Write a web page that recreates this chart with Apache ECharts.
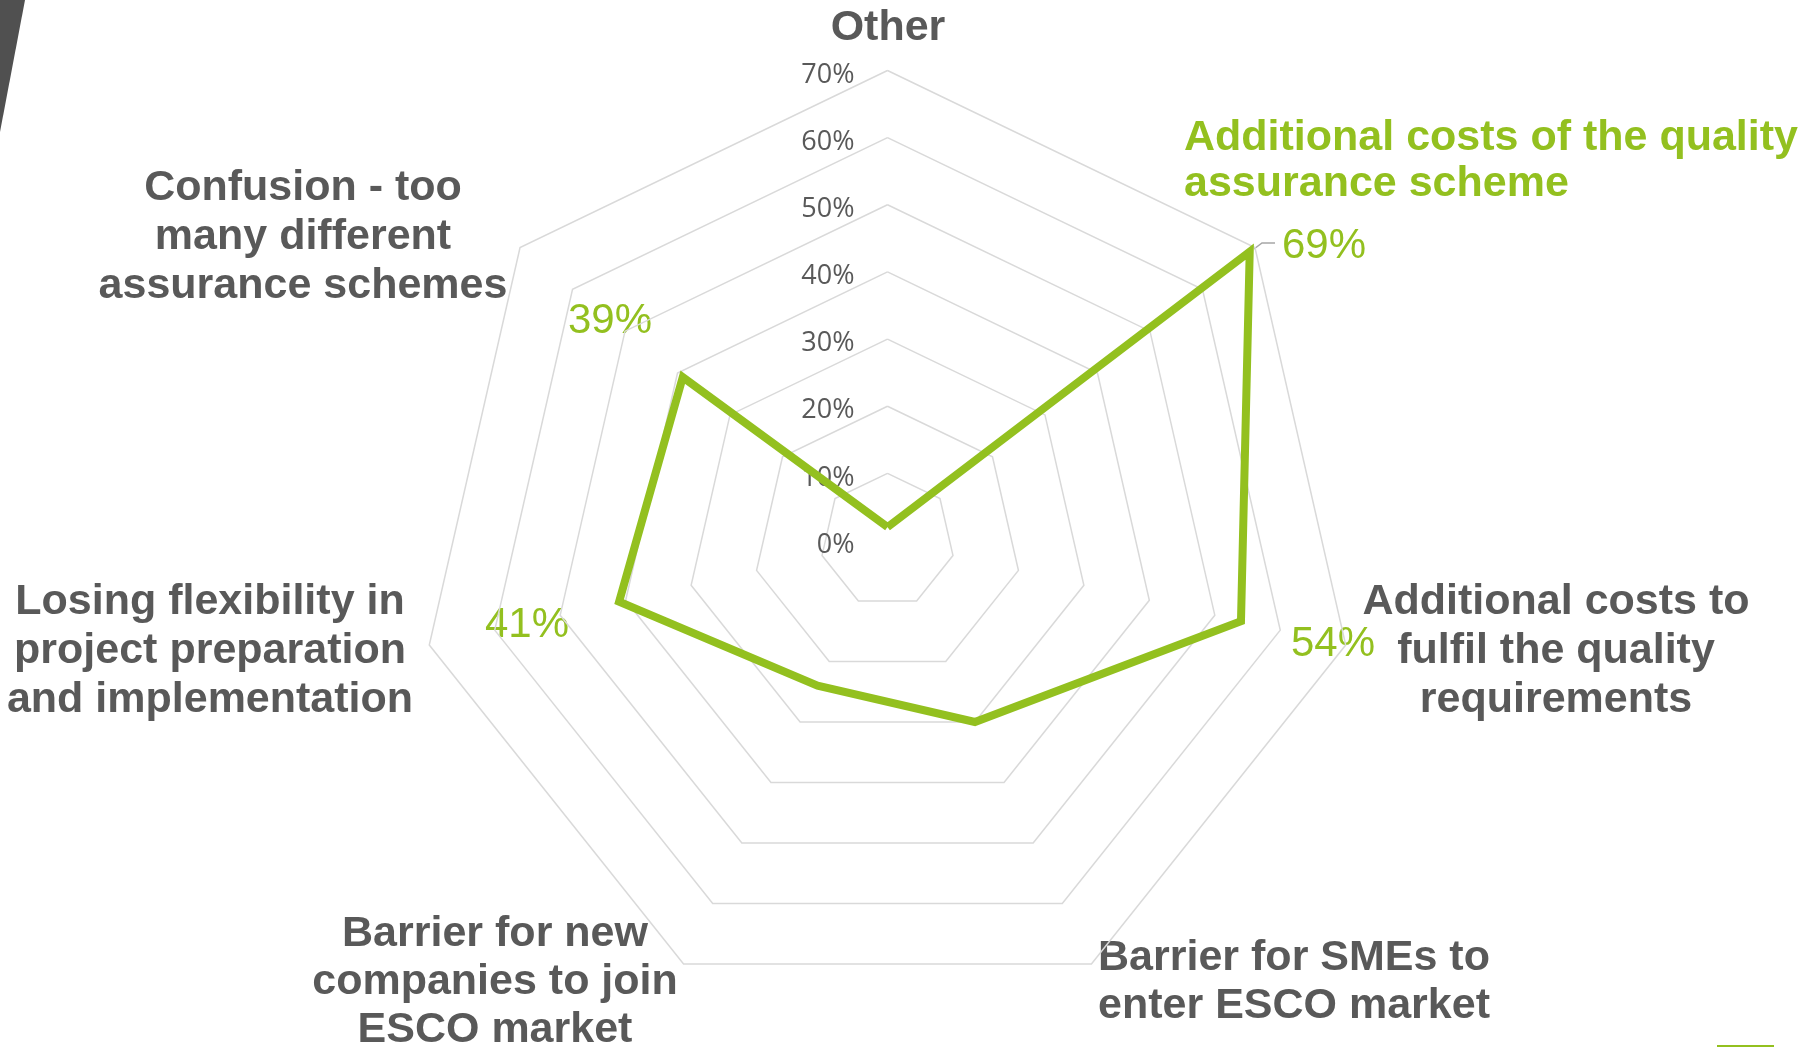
<!DOCTYPE html>
<html>
<head>
<meta charset="utf-8">
<script src="https://cdn.jsdelivr.net/npm/echarts@6/dist/echarts.min.js"></script>
<style>
  html, body { margin: 0; padding: 0; background: #ffffff; }
  #chart { width: 1801px; height: 1047px; }
</style>
</head>
<body>
<div id="chart"></div>
<script>
// Categories in clockwise order, starting at the top of the radar
const categories = [
  'Other',
  'Additional costs of the quality\nassurance scheme',
  'Additional costs to\nfulfil the quality\nrequirements',
  'Barrier for SMEs to\nenter ESCO market',
  'Barrier for new\ncompanies to join\nESCO market',
  'Losing flexibility in\nproject preparation\nand implementation',
  'Confusion - too\nmany different\nassurance schemes'
];
// Share of respondents per barrier
const values = [0.02, 0.69, 0.54, 0.30, 0.24, 0.41, 0.39];
// Which points carry a value label
const labelled = [false, true, true, false, false, true, true];
// Radial scale: 0% .. 70% in 10% steps
const axisMin = 0;
const axisMax = 0.7;
const tickStep = 0.1;

const GREEN = '#93C01F';
const GREY = '#595959';
const SANS = '"Liberation Sans", Arial, sans-serif';

const CENTER = [887.5, 540.5];
const RADIUS = 470;

// ECharts lays radar indicators out counter-clockwise, so feed them reversed
const order = [0].concat(categories.map((_, i) => i).slice(1).reverse());

const fmtPct = v => Math.round(v * 100) + '%';

// Placement of the category captions and value labels
const captionLayout = [
  { x: 888, y: 28, align: 'center', lh: 49 },
  { x: 1184, y: 161, align: 'left', lh: 46, color: GREEN },
  { x: 1556, y: 651, align: 'center', lh: 49 },
  { x: 1294, y: 982, align: 'center', lh: 48 },
  { x: 495, y: 982, align: 'center', lh: 48 },
  { x: 210, y: 651, align: 'center', lh: 49 },
  { x: 303, y: 237, align: 'center', lh: 49 }
];
const valueLabelLayout = [
  null,
  { x: 1282, y: 246, align: 'left', leader: [[1254, 249], [1262, 243], [1275, 243]] },
  { x: 1333, y: 644, align: 'center' },
  null,
  null,
  { x: 527, y: 625, align: 'center' },
  { x: 610, y: 321, align: 'center' }
];

const graphics = [
  // dark corner wedge
  { type: 'polygon', shape: { points: [[0, 0], [25, 0], [0, 132]] }, style: { fill: '#505050' }, silent: true },
  { type: 'rect', shape: { x: 1717, y: 1045, width: 57, height: 2 }, style: { fill: GREEN }, silent: true }
];

categories.forEach((name, i) => {
  const c = captionLayout[i];
  graphics.push({
    type: 'text', x: c.x, y: c.y, silent: true,
    style: {
      text: name, fill: c.color || GREY,
      font: 'bold 43px ' + SANS,
      align: c.align, verticalAlign: 'middle', lineHeight: c.lh
    }
  });
});

values.forEach((v, i) => {
  if (!labelled[i]) return;
  const l = valueLabelLayout[i];
  if (l.leader) {
    graphics.push({
      type: 'polyline', shape: { points: l.leader }, silent: true,
      style: { stroke: '#A6A6A6', lineWidth: 1.5, fill: null }
    });
  }
  graphics.push({
    type: 'text', x: l.x, y: l.y, silent: true,
    style: {
      text: fmtPct(v), fill: GREEN,
      font: '42px ' + SANS,
      align: l.align, verticalAlign: 'middle'
    }
  });
});

const chart = echarts.init(document.getElementById('chart'), null, { renderer: 'canvas' });

chart.setOption({
  backgroundColor: '#ffffff',
  animation: false,
  radar: {
    center: CENTER,
    radius: RADIUS,
    startAngle: 90,
    shape: 'polygon',
    splitNumber: Math.round((axisMax - axisMin) / tickStep),
    indicator: order.map((idx, k) => {
      const ind = { name: categories[idx].replace(/\n/g, ' '), min: axisMin, max: axisMax };
      if (k === 0) {
        ind.axisLabel = {
          show: true,
          margin: 33,
          formatter: v => '{t|' + fmtPct(v) + '}',
          rich: {
            t: {
              color: GREY,
              fontFamily: '"Open Sans", sans-serif',
              fontSize: 27,
              padding: [9, 0, 0, 0]
            }
          }
        };
      }
      return ind;
    }),
    axisName: { show: false },
    axisLine: { show: false },
    axisTick: { show: false },
    axisLabel: { show: false },
    splitLine: { lineStyle: { color: '#D9D9D9', width: 1.5 } },
    splitArea: { show: false }
  },
  series: [{
    type: 'radar',
    symbol: 'none',
    silent: true,
    lineStyle: { color: GREEN, width: 8, join: 'miter', miterLimit: 20 },
    data: [{ value: order.map(i => values[i]) }]
  }],
  graphic: graphics
});
</script>
</body>
</html>
